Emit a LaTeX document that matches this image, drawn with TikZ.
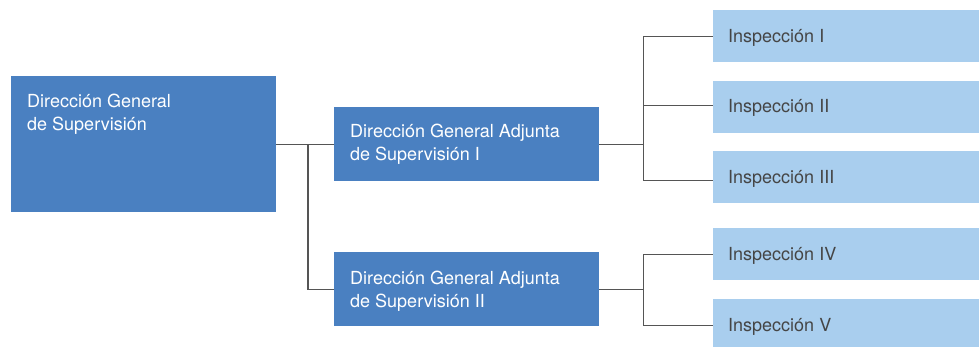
\documentclass[tikz,border=0pt]{standalone}
\usepackage{fontspec}
\setmainfont{TeX Gyre Heros}
\usetikzlibrary{positioning}
\definecolor{dgblue}{HTML}{4A80C1}
\definecolor{inblue}{HTML}{A9CEEE}
\definecolor{ingray}{HTML}{454545}
\definecolor{lngray}{HTML}{555555}

\begin{document}
\begin{tikzpicture}[x=1pt,y=-1pt]
\tikzstyle{every node}+=[inner sep=0pt]
\tikzstyle{dgbox}=[fill=dgblue, anchor=north west, minimum width=265pt]
\tikzstyle{inbox}=[fill=inblue, anchor=north west, minimum width=270pt, minimum height=52pt]
\tikzstyle{dgtext}=[anchor=base west, align=left, text=white, font=\fontsize{18}{23}\selectfont]
\tikzstyle{intext}=[anchor=base west, text=ingray, font=\fontsize{18}{23}\selectfont]
\tikzstyle{link}=[draw=lngray, line width=1.2pt]
\clip (0,0) rectangle (979,347);
% boxes
\node [dgbox, minimum height=136pt] (dg) at (11,76) {};
\node [dgbox, minimum height=74pt] (dga1) at (334,107) {};
\node [dgbox, minimum height=74pt] (dga2) at (334,252) {};
\node [inbox] (in1) at (713,10) {};
\node [inbox] (in2) at (713,81) {};
\node [inbox] (in3) at (713,151) {};
\node [inbox] (in4) at (713,228) {};
\node [inbox] (in5) at (713,299) {};
% texts (base is the last line)
\node [dgtext] (dgt) at (27,131) {Dirección General\\de Supervisión};
\node [dgtext] (dga1t) at (350,161) {Dirección General Adjunta\\de Supervisión I};
\node [dgtext] (dga2t) at (350,307) {Dirección General Adjunta\\de Supervisión II};
\node [intext] (in1t) at (728,43) {Inspección I};
\node [intext] (in2t) at (728,113) {Inspección II};
\node [intext] (in3t) at (728,184) {Inspección III};
\node [intext] (in4t) at (728,261) {Inspección IV};
\node [intext] (in5t) at (728,331) {Inspección V};
% links
\draw [link] (dg.east) -- (dga1.west);
\draw [link] ([xshift=-26pt]dga1.west) |- (dga2.west);
\draw [link] (dga1.east) -- ++(44,0) coordinate (fork1);
\draw [link] (in1.west) -| (fork1) |- ([yshift=-3pt]in3.west);
\draw [link] (fork1) |- ([yshift=2pt]in2.west);
\draw [link] (dga2.east) -- ++(44,0) coordinate (fork2);
\draw [link] (in4.west) -| (fork2) |- (in5.west);
\end{tikzpicture}
\end{document}
